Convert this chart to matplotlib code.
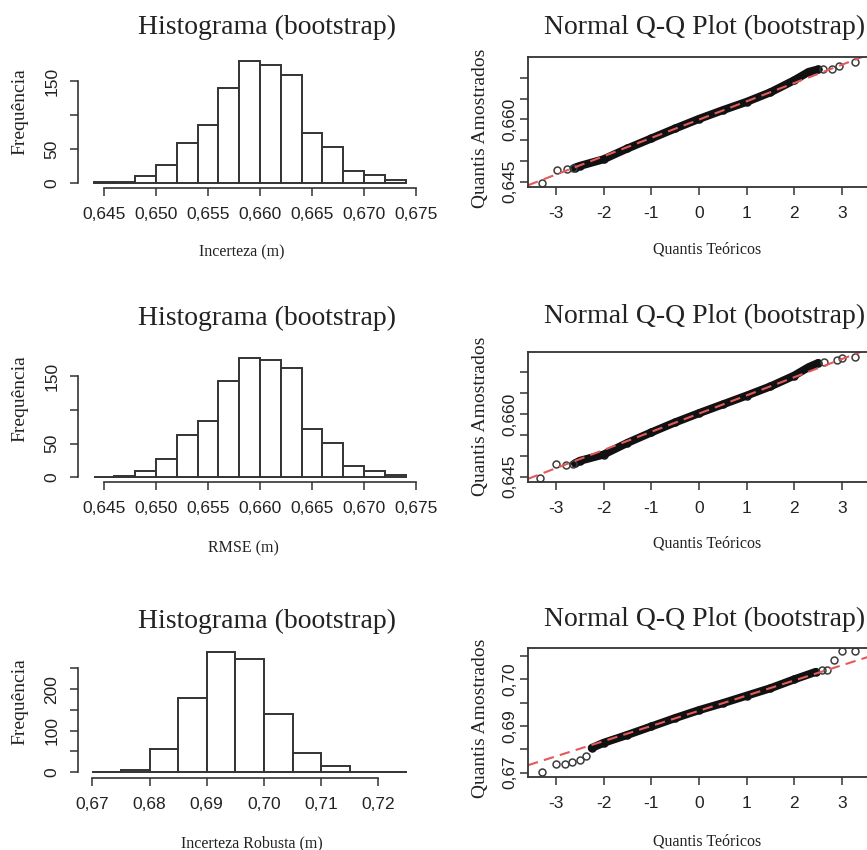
import numpy as np
import matplotlib.pyplot as plt

# ---- data ----
# histogram 1: Incerteza (m)
inc_edges = [0.644, 0.646, 0.648, 0.650, 0.652, 0.654, 0.656, 0.658, 0.660,
             0.662, 0.664, 0.666, 0.668, 0.670, 0.672, 0.674]
inc_counts = [1, 2, 10, 27, 59, 85, 139, 179, 174, 159, 74, 53, 18, 12, 5]

# histogram 2: RMSE (m)
rmse_edges = inc_edges
rmse_counts = [0, 2, 9, 27, 62, 83, 143, 177, 174, 162, 71, 51, 17, 9, 3]

# histogram 3: Incerteza Robusta (m)
rob_edges = [0.670, 0.675, 0.680, 0.685, 0.690, 0.695, 0.700, 0.705, 0.710,
             0.715, 0.720, 0.725]
rob_counts = [0, 5, 55, 178, 290, 273, 141, 47, 15, 0, 0]

hist_xticks_a = [0.645, 0.650, 0.655, 0.660, 0.665, 0.670, 0.675]
hist_xlabels_a = ["0,645", "0,650", "0,655", "0,660", "0,665", "0,670", "0,675"]
hist_xticks_b = [0.67, 0.68, 0.69, 0.70, 0.71, 0.72]
hist_xlabels_b = ["0,67", "0,68", "0,69", "0,70", "0,71", "0,72"]
hist_yticks_a = [0, 50, 100, 150]
hist_ylabels_a = ["0", "50", "", "150"]
hist_yticks_b = [0, 50, 100, 150, 200, 250]
hist_ylabels_b = ["0", "", "100", "", "200", ""]

# Q-Q plots: isolated points (tails) and the dense band of points
qq1_tail_t = [-3.29, -2.97, -2.76, -2.65, 2.61, 2.79, 2.93, 3.28]
qq1_tail_y = [0.6448, 0.6478, 0.6480, 0.6482, 0.6720, 0.6722, 0.6728, 0.6738]
qq1_band_t = [-2.6, -2.5, -2.0, -1.5, -1.0, -0.5, 0.0, 0.5, 1.0, 1.5, 2.0, 2.3, 2.5]
qq1_band_y = [0.6484, 0.6488, 0.6504, 0.6530, 0.6554, 0.6578, 0.6601, 0.6622,
              0.6642, 0.6665, 0.6694, 0.6714, 0.6720]

qq2_tail_t = [-3.34, -2.99, -2.78, -2.64, 2.62, 2.90, 3.00, 3.28]
qq2_tail_y = [0.6446, 0.6480, 0.6478, 0.6480, 0.6725, 0.6729, 0.6733, 0.6737]
qq2_band_t = [-2.6, -2.5, -2.0, -1.5, -1.0, -0.5, 0.0, 0.5, 1.0, 1.5, 2.0, 2.3, 2.5]
qq2_band_y = [0.6482, 0.6488, 0.6503, 0.6531, 0.6556, 0.6580, 0.6602, 0.6623,
              0.6644, 0.6666, 0.6692, 0.6712, 0.6722]

qq3_tail_t = [-3.30, -2.99, -2.81, -2.67, -2.50, -2.36, 2.58, 2.69, 2.83, 3.00, 3.28]
qq3_tail_y = [0.6751, 0.6769, 0.6769, 0.6772, 0.6778, 0.6785, 0.6969, 0.6971,
              0.6992, 0.7010, 0.7010]
qq3_band_t = [-2.25, -2.0, -1.5, -1.0, -0.5, 0.0, 0.5, 1.0, 1.5, 2.0, 2.45]
qq3_band_y = [0.6803, 0.6814, 0.6831, 0.6849, 0.6867, 0.6884, 0.6899, 0.6915,
              0.6931, 0.6950, 0.6966]

qq_xticks = [-3, -2, -1, 0, 1, 2, 3]
qq_xlabels = ["-3", "-2", "-1", "0", "1", "2", "3"]
qq_yticks_a = [0.645, 0.650, 0.655, 0.660, 0.665, 0.670]
qq_ylabels_a = ["0,645", "", "", "0,660", "", ""]
qq_yticks_b = [0.675, 0.680, 0.685, 0.690, 0.695, 0.700]
qq_ylabels_b = ["0,67", "", "0,69", "", "0,70", ""]

# ---- style ----
W, H = 867, 850
LINE = "#333333"
TXT = "#222222"
SERIF = "Liberation Serif"
SANS = "Liberation Sans"

plt.rcParams["font.family"] = SANS
plt.rcParams["text.color"] = TXT

fig = plt.figure(figsize=(W / 100, H / 100), dpi=100)


def px_axes(x0, y0, x1, y1):
    return fig.add_axes([x0 / W, 1 - y1 / H, (x1 - x0) / W, (y1 - y0) / H])


def px_text(x, y, s, size, rot=0, va="baseline"):
    fig.text(x / W, 1 - y / H, s, ha="center", va=va, rotation=rot,
             fontsize=size, family=SERIF, color=TXT)


def style_ticks(ax, xpad, ypad):
    ax.tick_params(axis="both", direction="out", length=5.5, width=1.1,
                   color=LINE, labelsize=12.5, labelcolor=TXT)
    ax.tick_params(axis="x", pad=xpad)
    ax.tick_params(axis="y", pad=ypad, labelrotation=90)
    for lbl in ax.get_yticklabels():
        lbl.set_va("center")


def draw_hist(box, edges, counts, xlim, ylim, xt, xl, yt, yl):
    ax = px_axes(*box)
    ax.bar(edges[:-1], counts, width=np.diff(edges), align="edge",
           facecolor="white", edgecolor=LINE, linewidth=1.4)
    ax.set_xlim(xlim)
    ax.set_ylim(ylim)
    ax.patch.set_alpha(0)
    for s in ["top", "right"]:
        ax.spines[s].set_visible(False)
    for s in ["left", "bottom"]:
        ax.spines[s].set_color(LINE)
        ax.spines[s].set_linewidth(1.2)
    ax.spines["left"].set_bounds(yt[0], yt[-1])
    ax.spines["bottom"].set_bounds(xt[0], xt[-1])
    ax.set_xticks(xt, xl)
    ax.set_yticks(yt, yl)
    style_ticks(ax, 8, 8)
    return ax


def draw_qq(box, tail_t, tail_y, band_t, band_y, ylim, yt, yl):
    ax = px_axes(*box)
    xlim = (-3.587, 3.556)
    ax.plot(band_t, band_y, color="#111111", lw=5.8, solid_capstyle="round",
            solid_joinstyle="round")
    ax.plot(band_t, band_y, "o", ms=5, mfc="none", mec="#111111", mew=1.1)
    ax.plot(tail_t, tail_y, "o", ms=5, mfc="none", mec="#3c3c3c", mew=1.1)
    # qqline through the quartiles
    q1 = np.interp(-0.6745, band_t, band_y)
    q3 = np.interp(0.6745, band_t, band_y)
    slope = (q3 - q1) / 1.349
    inter = q1 + slope * 0.6745
    xs = np.array(xlim)
    ax.plot(xs, inter + slope * xs, color="#e35a5a", lw=1.5,
            linestyle=(0, (5, 3)))
    ax.set_xlim(xlim)
    ax.set_ylim(ylim)
    for s in ax.spines.values():
        s.set_color(LINE)
        s.set_linewidth(1.3)
    ax.set_xticks(qq_xticks, qq_xlabels)
    ax.set_yticks(yt, yl)
    style_ticks(ax, 8, 2.5)
    return ax


# row 1
draw_hist((78, 56, 418, 188), inc_edges, inc_counts, (0.6425, 0.6752),
          (-7.4, 186.8), hist_xticks_a, hist_xlabels_a, hist_yticks_a, hist_ylabels_a)
draw_qq((528, 57, 868.5, 187), qq1_tail_t, qq1_tail_y, qq1_band_t, qq1_band_y,
        (0.64373, 0.67498), qq_yticks_a, qq_ylabels_a)

# row 2
draw_hist((78, 353, 418, 482), rmse_edges, rmse_counts, (0.6425, 0.6752),
          (-7.0, 184.0), hist_xticks_a, hist_xlabels_a, hist_yticks_a, hist_ylabels_a)
draw_qq((528, 351.7, 868.5, 482.3), qq2_tail_t, qq2_tail_y, qq2_band_t, qq2_band_y,
        (0.64366, 0.67490), qq_yticks_a, qq_ylabels_a)

# row 3
draw_hist((78, 647, 418, 778), rob_edges, rob_counts, (0.6675, 0.72694),
          (-14.5, 301.9), hist_xticks_b, hist_xlabels_b, hist_yticks_b, hist_ylabels_b)
draw_qq((528, 647.7, 868.5, 777.3), qq3_tail_t, qq3_tail_y, qq3_band_t, qq3_band_y,
        (0.67401, 0.70178), qq_yticks_b, qq_ylabels_b)

# titles and axis labels
for yb in [34, 325, 628]:
    px_text(267, yb, "Histograma (bootstrap)", 20)
for yb in [34, 323, 626]:
    px_text(705, yb, "Normal Q-Q Plot (bootstrap)", 20)

px_text(242, 256, "Incerteza (m)", 11.5)
px_text(243, 552, "RMSE (m)", 11.5)
px_text(252, 847, "Incerteza Robusta (m)", 11.5)
for yb in [253, 548, 846]:
    px_text(707, yb, "Quantis Teóricos", 11.5)

for yc in [112, 399, 702]:
    px_text(20, yc, "Frequência", 14, rot=90, va="center")
for yc in [128, 416, 718]:
    px_text(481, yc, "Quantis Amostrados", 14, rot=90, va="center")

fig.savefig("out.png", dpi=100)
